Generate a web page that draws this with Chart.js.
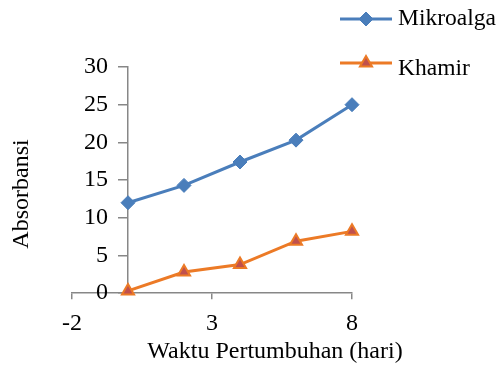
<!DOCTYPE html>
<html>
<head>
<meta charset="utf-8">
<script src="https://cdn.jsdelivr.net/npm/chart.js@4/dist/chart.umd.min.js"></script>
<style>
  html, body { margin: 0; padding: 0; background: #fff; }
  #wrap { width: 503px; height: 371px; }
</style>
</head>
<body>
<div id="wrap"><canvas id="canvas"></canvas></div>
<script>
let days = [0, 2, 4, 6, 8] ;
let mikroalga = [12, 14.3, 17.4, 20.3, 25] ;
let khamir = [0.3, 2.8, 3.8, 6.9, 8.2] ;
let xTicks = [-2, 3, 8] ;
let yTicks = [0, 5, 10, 15, 20, 25, 30] ;
let xTitle = 'Waktu Pertumbuhan (hari)' ;
let yTitle = 'Absorbansi' ;

let blue = '#4A7EBB' ;
let orange = '#EC7A26' ;
let red = '#C0504D' ;
let axisGray = '#878787' ;
let serif = 'Liberation Serif' ;
let fontSize = 24 ;

function points(values) {
  return days.map((d, i) => ({ x: d, y: values[i] })) ;
}

// axis titles + legend drawn by hand (they sit off-centre in the original)
let extras = {
  id: 'extras',
  afterDraw(chart) {
    let ctx = chart.ctx ;
    ctx.save() ;
    ctx.fillStyle = '#000' ;
    ctx.font = fontSize + 'px "' + serif + '"' ;
    ctx.textAlign = 'center' ;
    ctx.textBaseline = 'middle' ;
    ctx.fillText(xTitle, 275, 352) ;
    ctx.translate(22, 194) ;
    ctx.rotate(-Math.PI / 2) ;
    ctx.fillText(yTitle, 0, 0) ;
    ctx.restore() ;

    let rows = [
      { ds: chart.data.datasets[0], y: 19, textY: 25 },
      { ds: chart.data.datasets[1], y: 63, textY: 75 }
    ] ;
    ctx.save() ;
    rows.forEach(r => {
      ctx.strokeStyle = r.ds.borderColor ;
      ctx.lineWidth = 3 ;
      ctx.beginPath() ;
      ctx.moveTo(340, r.y) ;
      ctx.lineTo(392, r.y) ;
      ctx.stroke() ;
      ctx.fillStyle = r.ds.pointBackgroundColor ;
      ctx.strokeStyle = r.ds.pointBorderColor ;
      ctx.lineWidth = r.ds.pointBorderWidth ;
      Chart.helpers.drawPoint(ctx, {
        pointStyle: r.ds.pointStyle,
        radius: r.ds.pointRadius,
        rotation: 0,
        borderWidth: r.ds.pointBorderWidth
      }, 366, r.y) ;
      ctx.fillStyle = '#000' ;
      ctx.font = '23.5px "' + serif + '"' ;
      ctx.textAlign = 'left' ;
      ctx.textBaseline = 'alphabetic' ;
      ctx.fillText(r.ds.label, 398, r.textY) ;
    }) ;
    ctx.restore() ;
  }
} ;

let myChart = new Chart(document.getElementById('canvas'), {
  type: 'line',
  data: {
    datasets: [{
      label: 'Mikroalga',
      data: points(mikroalga),
      borderColor: blue,
      borderWidth: 3,
      pointStyle: 'rectRot',
      pointRadius: 7,
      pointBackgroundColor: blue,
      pointBorderColor: blue,
      pointBorderWidth: 1,
      clip: false
    }, {
      label: 'Khamir',
      data: points(khamir),
      borderColor: orange,
      borderWidth: 3,
      pointStyle: 'triangle',
      pointRadius: 7,
      pointBackgroundColor: red,
      pointBorderColor: orange,
      pointBorderWidth: 2,
      clip: false
    }]
  },
  options: {
    responsive: true,
    maintainAspectRatio: false,
    animation: false,
    layout: { padding: { left: 72, right: 151, top: 67, bottom: 23 } },
    plugins: {
      legend: { display: false },
      tooltip: { enabled: false }
    },
    scales: {
      x: {
        type: 'linear',
        min: -2,
        max: 8,
        afterBuildTicks: axis => { axis.ticks = xTicks.map(v => ({ value: v })) ; },
        grid: { drawOnChartArea: false, drawTicks: true, tickLength: 6, color: axisGray, lineWidth: 1.5 },
        border: { display: true, color: axisGray, width: 1.5 },
        ticks: { color: '#000', font: { family: serif, size: fontSize }, padding: 10 }
      },
      y: {
        type: 'linear',
        position: { x: 0 },
        min: 0,
        max: 30,
        afterBuildTicks: axis => { axis.ticks = yTicks.map(v => ({ value: v })) ; },
        grid: { drawOnChartArea: false, drawTicks: true, tickLength: 9, color: axisGray, lineWidth: 1.5 },
        border: { display: true, color: axisGray, width: 1.5 },
        // axis sits at x = 0, chart.js puts labels flush on the line, so pad with spaces
        ticks: { color: '#000', font: { family: serif, size: fontSize }, callback: v => v + '   \u200A' }
      }
    }
  },
  plugins: [extras]
}) ;
</script>
</body>
</html>
